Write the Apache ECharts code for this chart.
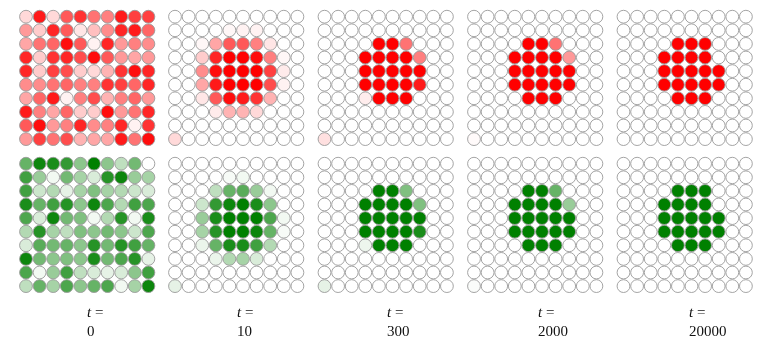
<!DOCTYPE html>
<html><head><meta charset="utf-8">
<script src="https://cdn.jsdelivr.net/npm/echarts@6/dist/echarts.min.js"></script>
<style>html,body{margin:0;padding:0;background:#fff}#c{width:770px;height:357px}</style>
</head><body><div id="c"></div>
<script>
const timeLabels = ['0', '10', '300', '2000', '20000'];

const redT0 = [
  [0.15, 0.9, 0.15, 0.65, 0.8, 0.55, 0.5, 0.9, 0.75, 0.75],
  [0.4, 0.2, 0.85, 0.65, 0.1, 0.25, 0.45, 0.85, 0.9, 0.6],
  [0.35, 0.55, 0.6, 0.95, 0.65, 0.05, 0.85, 0.4, 0.5, 0.45],
  [0.85, 0.2, 0.8, 0.85, 0.7, 0.95, 0.65, 0.4, 0.35, 0.4],
  [0.85, 0.2, 0.75, 0.7, 0.2, 0.15, 0.3, 0.8, 0.95, 0.85],
  [0.45, 0.45, 0.55, 0.6, 0.5, 0.5, 0.8, 0.75, 0.6, 0.85],
  [0.35, 0.6, 0.9, 0.05, 0.5, 0.7, 0.3, 0.5, 0.6, 0.4],
  [0.9, 0.5, 0.35, 0.6, 0.2, 0.2, 0.95, 0.4, 0.55, 0.85],
  [0.65, 0.95, 0.4, 0.5, 0.85, 0.45, 0.5, 0.85, 0.05, 0.8],
  [0.4, 0.75, 0.55, 0.7, 0.3, 0.35, 0.35, 0.9, 0.55, 0.95]
];
const redT10 = [
  [0, 0, 0, 0, 0, 0, 0, 0, 0, 0],
  [0, 0, 0, 0, 0.03, 0.05, 0.05, 0, 0, 0],
  [0, 0, 0.03, 0.35, 0.65, 0.65, 0.5, 0.1, 0, 0],
  [0, 0, 0.2, 0.85, 1, 1, 0.95, 0.5, 0.03, 0],
  [0, 0, 0.45, 0.95, 1, 1, 1, 0.75, 0.08, 0],
  [0, 0, 0.35, 0.9, 1, 1, 1, 0.7, 0.05, 0],
  [0, 0, 0.1, 0.65, 0.95, 0.9, 0.8, 0.3, 0, 0],
  [0, 0, 0, 0.08, 0.3, 0.3, 0.15, 0, 0, 0],
  [0, 0, 0, 0, 0, 0, 0, 0, 0, 0],
  [0.15, 0, 0, 0, 0, 0, 0, 0, 0, 0]
];
const redT300 = [
  [0, 0, 0, 0, 0, 0, 0, 0, 0, 0],
  [0, 0, 0, 0, 0, 0, 0, 0, 0, 0],
  [0, 0, 0, 0, 1, 1, 0.55, 0, 0, 0],
  [0, 0, 0, 1, 1, 1, 1, 0.5, 0, 0],
  [0, 0, 0, 1, 1, 1, 1, 1, 0, 0],
  [0, 0, 0, 1, 1, 1, 1, 0.9, 0, 0],
  [0, 0, 0, 0.07, 1, 1, 1, 0, 0, 0],
  [0, 0, 0, 0, 0, 0, 0, 0, 0, 0],
  [0, 0, 0, 0, 0, 0, 0, 0, 0, 0],
  [0.12, 0, 0, 0, 0, 0, 0, 0, 0, 0]
];
const redT2000 = [
  [0, 0, 0, 0, 0, 0, 0, 0, 0, 0],
  [0, 0, 0, 0, 0, 0, 0, 0, 0, 0],
  [0, 0, 0, 0, 1, 1, 0.55, 0, 0, 0],
  [0, 0, 0, 1, 1, 1, 1, 0.4, 0, 0],
  [0, 0, 0, 1, 1, 1, 1, 1, 0, 0],
  [0, 0, 0, 1, 1, 1, 1, 1, 0, 0],
  [0, 0, 0, 0, 1, 1, 1, 0, 0, 0],
  [0, 0, 0, 0, 0, 0, 0, 0, 0, 0],
  [0, 0, 0, 0, 0, 0, 0, 0, 0, 0],
  [0.02, 0, 0, 0, 0, 0, 0, 0, 0, 0]
];
const redT20000 = [
  [0, 0, 0, 0, 0, 0, 0, 0, 0, 0],
  [0, 0, 0, 0, 0, 0, 0, 0, 0, 0],
  [0, 0, 0, 0, 1, 1, 1, 0, 0, 0],
  [0, 0, 0, 1, 1, 1, 1, 0, 0, 0],
  [0, 0, 0, 1, 1, 1, 1, 1, 0, 0],
  [0, 0, 0, 1, 1, 1, 1, 1, 0, 0],
  [0, 0, 0, 0, 1, 1, 1, 0, 0, 0],
  [0, 0, 0, 0, 0, 0, 0, 0, 0, 0],
  [0, 0, 0, 0, 0, 0, 0, 0, 0, 0],
  [0, 0, 0, 0, 0, 0, 0, 0, 0, 0]
];

const greenT0 = [
  [0.6, 0.95, 0.9, 0.8, 0.45, 1.0, 0.45, 0.25, 0.55, 0.0],
  [0.75, 0.4, 0.05, 0.55, 0.35, 0.15, 0.85, 0.95, 0.4, 0.35],
  [0.75, 0.2, 0.3, 0.1, 0.35, 0.5, 0.35, 0.3, 0.2, 0.15],
  [0.9, 0.6, 0.75, 0.85, 0.45, 0.95, 0.7, 0.3, 0.75, 0.7],
  [0.7, 0.15, 0.95, 0.55, 0.5, 0.05, 0.3, 0.85, 0.05, 0.9],
  [0.3, 0.85, 0.35, 0.25, 0.5, 0.45, 0.55, 0.45, 0.2, 0.7],
  [0.15, 0.65, 0.55, 0.6, 0.45, 0.85, 0.55, 0.85, 0.75, 0.6],
  [0.95, 0.55, 0.45, 0.5, 0.45, 0.9, 0.55, 0.7, 0.85, 0.1],
  [0.7, 0.05, 0.4, 0.75, 0.25, 0.15, 0.1, 0.15, 0.45, 0.75],
  [0.25, 0.6, 0.35, 0.7, 0.45, 0.6, 0.7, 0.05, 0.35, 0.95]
];
const greenT10 = [
  [0, 0, 0, 0, 0, 0, 0, 0, 0, 0],
  [0, 0, 0, 0, 0.03, 0.05, 0, 0, 0, 0],
  [0, 0, 0, 0.25, 0.6, 0.65, 0.4, 0.05, 0, 0],
  [0, 0, 0.2, 0.8, 0.95, 1, 0.9, 0.45, 0, 0],
  [0, 0, 0.4, 0.9, 1, 1, 1, 0.7, 0.05, 0],
  [0, 0, 0.35, 0.85, 1, 1, 0.95, 0.6, 0.03, 0],
  [0, 0, 0.08, 0.6, 0.9, 0.9, 0.75, 0.3, 0, 0],
  [0, 0, 0, 0.08, 0.3, 0.35, 0.15, 0, 0, 0],
  [0, 0, 0, 0, 0, 0, 0, 0, 0, 0],
  [0.1, 0, 0, 0, 0, 0, 0, 0, 0, 0]
];
const greenT300 = [
  [0, 0, 0, 0, 0, 0, 0, 0, 0, 0],
  [0, 0, 0, 0, 0, 0, 0, 0, 0, 0],
  [0, 0, 0, 0, 1, 1, 0.5, 0, 0, 0],
  [0, 0, 0, 1, 1, 1, 1, 0.5, 0, 0],
  [0, 0, 0, 1, 1, 1, 1, 1, 0, 0],
  [0, 0, 0, 1, 1, 1, 1, 0.9, 0, 0],
  [0, 0, 0, 0.07, 1, 1, 1, 0, 0, 0],
  [0, 0, 0, 0, 0, 0, 0, 0, 0, 0],
  [0, 0, 0, 0, 0, 0, 0, 0, 0, 0],
  [0.1, 0, 0, 0, 0, 0, 0, 0, 0, 0]
];
const greenT2000 = [
  [0, 0, 0, 0, 0, 0, 0, 0, 0, 0],
  [0, 0, 0, 0, 0, 0, 0, 0, 0, 0],
  [0, 0, 0, 0, 1, 1, 0.6, 0, 0, 0],
  [0, 0, 0, 1, 1, 1, 1, 0.4, 0, 0],
  [0, 0, 0, 1, 1, 1, 1, 1, 0, 0],
  [0, 0, 0, 1, 1, 1, 1, 1, 0, 0],
  [0, 0, 0, 0, 1, 1, 1, 0, 0, 0],
  [0, 0, 0, 0, 0, 0, 0, 0, 0, 0],
  [0, 0, 0, 0, 0, 0, 0, 0, 0, 0],
  [0.02, 0, 0, 0, 0, 0, 0, 0, 0, 0]
];
const greenT20000 = [
  [0, 0, 0, 0, 0, 0, 0, 0, 0, 0],
  [0, 0, 0, 0, 0, 0, 0, 0, 0, 0],
  [0, 0, 0, 0, 1, 1, 1, 0, 0, 0],
  [0, 0, 0, 1, 1, 1, 1, 0, 0, 0],
  [0, 0, 0, 1, 1, 1, 1, 1, 0, 0],
  [0, 0, 0, 1, 1, 1, 1, 1, 0, 0],
  [0, 0, 0, 0, 1, 1, 1, 0, 0, 0],
  [0, 0, 0, 0, 0, 0, 0, 0, 0, 0],
  [0, 0, 0, 0, 0, 0, 0, 0, 0, 0],
  [0, 0, 0, 0, 0, 0, 0, 0, 0, 0]
];

const redPanels = [redT0, redT10, redT300, redT2000, redT20000];
const greenPanels = [greenT0, greenT10, greenT300, greenT2000, greenT20000];

const colStart = [26, 175, 324.5, 474, 623.5];
const rowStart = [16.7, 163.7];
const labelLeft = [87, 237, 387, 538, 689];
const step = 13.6;
const span = 9 * step;
const serif = '"Liberation Serif", "DejaVu Serif", serif';

function toData(m) {
  const out = [];
  m.forEach((row, r) => row.forEach((v, c) => out.push([c, r, v])));
  return out;
}

const grid = [], xAxis = [], yAxis = [], series = [], title = [];
const rows = [redPanels, greenPanels];
rows.forEach((panels, ri) => {
  panels.forEach((m, p) => {
    const idx = grid.length;
    grid.push({ left: colStart[p], top: rowStart[ri], width: span, height: span });
    xAxis.push({ gridIndex: idx, type: 'value', min: 0, max: 9, show: false });
    yAxis.push({ gridIndex: idx, type: 'value', min: 0, max: 9, inverse: true, show: false });
    series.push({
      type: 'scatter', xAxisIndex: idx, yAxisIndex: idx,
      symbol: 'circle', symbolSize: 12.8, clip: false, silent: true,
      itemStyle: { borderColor: '#9a9a9a', borderWidth: 0.9, opacity: 1 },
      data: toData(m)
    });
  });
});

timeLabels.forEach((t, p) => {
  title.push({
    text: '{i|t} =\n' + t,
    left: labelLeft[p], top: 304, padding: 0,
    textStyle: {
      fontFamily: serif, fontSize: 15, fontWeight: 'normal', color: '#111', lineHeight: 19,
      rich: { i: { fontFamily: serif, fontStyle: 'italic', fontSize: 15, color: '#111', lineHeight: 19 } }
    }
  });
});

const chart = echarts.init(document.getElementById('c'), null, { renderer: 'canvas' });
chart.setOption({
  animation: false,
  backgroundColor: '#ffffff',
  title, grid, xAxis, yAxis, series,
  visualMap: [
    { type: 'continuous', show: false, min: 0, max: 1, dimension: 2, seriesIndex: [0, 1, 2, 3, 4], inRange: { color: ['#ffffff', '#ff0000'] } },
    { type: 'continuous', show: false, min: 0, max: 1, dimension: 2, seriesIndex: [5, 6, 7, 8, 9], inRange: { color: ['#ffffff', '#008000'] } }
  ]
});
</script></body></html>
